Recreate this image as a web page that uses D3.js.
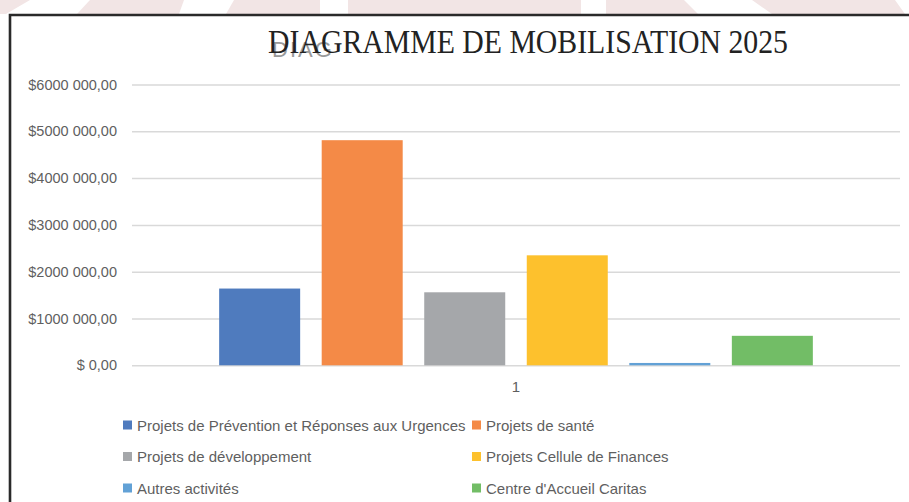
<!DOCTYPE html>
<html lang="fr">
<head>
  <meta charset="UTF-8">
  <title>Diagramme de mobilisation 2025</title>
  <style>
    body { margin: 0; background: #fff; }
    svg { display: block; }
    .tick text { font-family: "Liberation Sans", Arial, sans-serif; }
  </style>
</head>
<body>
  <svg id="chart" width="909" height="502"></svg>

  <script src="https://d3js.org/d3.v7.min.js"></script>
  <script>
    // data
    const title = "DIAGRAMME DE MOBILISATION 2025";
    const categories = ["1"];
    const series = [
      "Projets de Prévention et Réponses aux Urgences",
      "Projets de santé",
      "Projets de développement",
      "Projets Cellule de Finances",
      "Autres activités",
      "Centre d'Accueil Caritas"
    ];
    const values = [1640000, 4810000, 1560000, 2350000, 50000, 630000];
    const colors = ["#4f7bbe", "#f48a47", "#a5a7aa", "#fdc12d", "#62a1d6", "#72bd66"];
    const yTicks = [0, 1000000, 2000000, 3000000, 4000000, 5000000, 6000000];

    const svg = d3.select("#chart");

    // faint watermark band above the frame
    const wm = [
      [[0,0],[30,0],[6,14],[0,14]],
      [[90,0],[184,0],[179,14],[77,14]],
      [[234,0],[320,0],[320,14],[226,14]],
      [[348,0],[581,0],[581,14],[348,14]],
      [[606,0],[684,0],[698,14],[606,14]],
      [[752,0],[895,0],[905,14],[772,14]]
    ];
    svg.append("g").selectAll("polygon")
      .data(wm)
      .join("polygon")
      .attr("points", d => d.map(p => p.join(",")).join(" "))
      .attr("fill", "#f2e5e5");

    // frame
    svg.append("path")
      .attr("d", "M10,502 V15 H909")
      .attr("fill", "none")
      .attr("stroke", "#2a2a2a")
      .attr("stroke-width", 2.6);

    const plotLeft = 132, plotRight = 900, plotTop = 84.5, plotBottom = 365.3;

    const y = d3.scaleLinear()
      .domain([0, 6000000])
      .range([plotBottom, plotTop]);

    const x0 = d3.scaleBand()
      .domain(categories)
      .range([plotLeft, plotRight])
      .padding(0);

    const x1 = d3.scaleBand()
      .domain(series)
      .range([0, x0.bandwidth()])
      .paddingInner(0.21)
      .paddingOuter(0.85);

    const fmt = v => {
      if (v === 0) return "$ 0,00";
      const m = Math.floor(v / 1000000);
      return "$" + m + "000 000,00";
    };

    // gridlines + y labels
    const yAxis = svg.append("g")
      .attr("transform", `translate(${plotLeft},0)`)
      .call(d3.axisLeft(y).tickValues(yTicks).tickFormat(fmt).tickSize(-(plotRight - plotLeft)).tickPadding(15));
    yAxis.select(".domain").remove();
    yAxis.selectAll(".tick line").attr("stroke", "#d9d9d9").attr("stroke-width", 1.5);
    yAxis.selectAll(".tick text")
      .attr("fill", "#5f5f5f")
      .style("font-size", "14.5px");

    // bars
    const g = svg.append("g");
    g.selectAll("g.cat")
      .data(categories)
      .join("g")
      .attr("class", "cat")
      .attr("transform", d => `translate(${x0(d)},0)`)
      .selectAll("rect")
      .data(() => series.map((s, i) => ({ s: s, v: values[i], c: colors[i] })))
      .join("rect")
      .attr("x", d => x1(d.s))
      .attr("y", d => y(d.v))
      .attr("width", x1.bandwidth())
      .attr("height", d => y(0) - y(d.v))
      .attr("fill", d => d.c);

    // category axis
    const xAxis = svg.append("g")
      .attr("transform", `translate(0,${plotBottom})`)
      .call(d3.axisBottom(x0).tickSize(0).tickPadding(16));
    xAxis.select(".domain").remove();
    xAxis.selectAll(".tick text")
      .attr("fill", "#5f5f5f")
      .style("font-size", "15px");

    // title (with the stray "DIAG" behind it)
    svg.append("text")
      .attr("x", 272)
      .attr("y", 57)
      .attr("fill", "#9a9a9a")
      .style("font-family", "'Liberation Sans', Arial, sans-serif")
      .style("font-size", "22px")
      .style("letter-spacing", "2px")
      .text("DIAG");

    svg.append("text")
      .attr("x", 268)
      .attr("y", 53)
      .attr("fill", "#222")
      .attr("textLength", 520)
      .attr("lengthAdjust", "spacingAndGlyphs")
      .style("font-family", "'Liberation Serif', 'Times New Roman', serif")
      .style("font-size", "33px")
      .text(title);

    // legend
    const legX = [123, 472];
    const legY = [425, 456.5, 488];
    const leg = svg.append("g").selectAll("g")
      .data(series)
      .join("g")
      .attr("transform", (d, i) => `translate(${legX[i % 2]},${legY[Math.floor(i / 2)]})`);
    leg.append("rect")
      .attr("x", 0)
      .attr("y", -4.5)
      .attr("width", 9)
      .attr("height", 9)
      .attr("fill", (d, i) => colors[i]);
    leg.append("text")
      .attr("x", 14)
      .attr("y", 5.5)
      .attr("fill", "#5f5f5f")
      .style("font-family", "'Liberation Sans', Arial, sans-serif")
      .style("font-size", "15px")
      .text(d => d);
  </script>
</body>
</html>
